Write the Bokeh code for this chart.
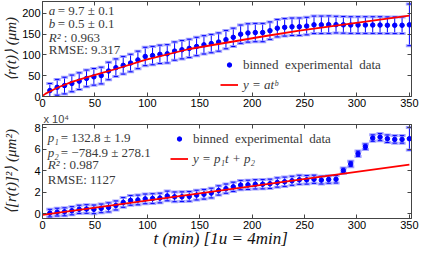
from bokeh.plotting import figure
from bokeh.layouts import column
from bokeh.models import (Range1d, LinearAxis, Legend, LegendItem, Label,
                          ColumnDataSource, FixedTicker)
from bokeh.embed import file_html
from bokeh.resources import INLINE

# ---------------- data ----------------
t = [7, 14, 21, 28, 35, 42, 49, 56, 63, 70, 77, 84, 91, 98, 105, 112, 119, 126,
     133, 140, 147, 154, 161, 168, 175, 182, 189, 196, 203, 210, 217, 224, 231,
     238, 245, 252, 259, 266, 273, 280, 287, 294, 301, 308, 315, 322, 329, 336,
     343, 350]

r_mean = [14.2, 22.1, 26.2, 31.4, 36.8, 43.5, 47.2, 50.3, 61.2, 69.2, 74.8, 80.3,
          87.8, 96.1, 98.2, 101.2, 102.5, 109.0, 112.3, 115.5, 120.0, 124.0,
          127.0, 130.7, 136.5, 142.0, 149.5, 152.5, 153.5, 153.5, 158.0, 164.0,
          166.0, 167.3, 167.5, 169.0, 172.0, 172.0, 172.5, 172.5, 172.0, 171.5,
          171.5, 171.5, 171.5, 171.5, 171.0, 171.0, 171.0, 172.0]
r_err = [17, 19, 20, 20, 20, 20, 20, 20, 21, 21, 21, 21, 21, 22, 22, 22, 22, 22,
         22, 22, 22, 22, 22, 22, 22, 22, 22, 22, 22, 22, 21, 21, 21, 21, 21, 21,
         21, 21, 21, 20, 20, 20, 20, 20, 20, 20, 20, 20, 20, 50]

# <[r(t)]^2>, in units of 10^4 um^2
r2_mean = [0.08, 0.17, 0.20, 0.30, 0.43, 0.46, 0.43, 0.52, 0.61, 0.79, 1.07, 1.26,
           1.30, 1.40, 1.43, 1.48, 1.67, 1.59, 1.60, 1.63, 1.75, 1.83, 1.94, 2.18,
           2.35, 2.52, 2.68, 2.70, 2.75, 2.76, 2.80, 2.92, 2.99, 3.08, 3.17, 3.17,
           3.22, 3.14, 3.20, 3.22, 4.02, 4.64, 5.59, 6.24, 7.04, 7.13, 6.98, 6.92,
           6.92, 6.98]
r2_err = [0.35, 0.36, 0.37, 0.38, 0.38, 0.40, 0.40, 0.40, 0.42, 0.42, 0.45, 0.45,
          0.45, 0.45, 0.45, 0.45, 0.45, 0.45, 0.45, 0.45, 0.45, 0.45, 0.45, 0.43,
          0.43, 0.43, 0.43, 0.43, 0.43, 0.43, 0.43, 0.43, 0.43, 0.42, 0.42, 0.40,
          0.38, 0.36, 0.35, 0.35, 0.24, 0.25, 0.25, 0.25, 0.30, 0.33, 0.35, 0.35,
          0.35, 1.05]

# fitted curves
fit1_t = [0.5, 3, 7, 14, 28, 42, 56, 70, 98, 140, 175, 210, 245, 280, 315, 350]
fit1_y = [2, 7, 12, 21, 35, 46, 56, 66, 88, 114, 129, 144, 158, 170, 182, 194]
fit2_t = [0, 350]
fit2_y = [-0.08, 4.57]

x_ticks = [0, 50, 100, 150, 200, 250, 300, 350]
y1_ticks = [0, 50, 100, 150, 200]
y2_ticks = [0, 2, 4, 6, 8]

# fit annotations: (italic symbol, upright remainder)
text1 = [("a", " = 9.7 \u00b1 0.1"), ("b", " = 0.5 \u00b1 0.1"),
         ("R\u00b2", " : 0.963"), ("", "RMSE: 9.317")]
text2 = [("p\u2081", " = 132.8 \u00b1 1.9"), ("p\u2082", " = \u2212784.9 \u00b1 278.1"),
         ("R\u00b2", " : 0.987"), ("", "RMSE: 1127")]

# ---------------- styling helpers ----------------
SERIF = "Liberation Serif"
SANS = "Liberation Sans"
BLUE = "#0000ff"
FRAME = "#444444"
TXT = "#3a3a3a"
SYM_W = {"a": 9, "b": 9, "R\u00b2": 15, "p\u2081": 13, "p\u2082": 13, "": 0}


def style(p, yticks):
    xa, ya = p.below[0], p.left[0]
    xa.ticker = FixedTicker(ticks=x_ticks)
    ya.ticker = FixedTicker(ticks=yticks)
    for ax in (xa, ya):
        ax.major_tick_in = 4
        ax.major_tick_out = 0
        ax.minor_tick_line_color = None
        ax.axis_line_color = FRAME
        ax.major_tick_line_color = FRAME
        ax.major_label_text_font = SANS
        ax.major_label_text_font_size = "11px"
        ax.major_label_text_color = "#000000"
        ax.major_label_standoff = 2
    p.grid.visible = False
    p.outline_line_color = FRAME
    for loc, tk in (("right", yticks), ("above", x_ticks)):
        ax = LinearAxis(ticker=FixedTicker(ticks=tk), major_tick_in=4,
                        major_tick_out=0, minor_tick_line_color=None,
                        major_label_text_font_size="1px",
                        major_label_text_color=None, major_label_standoff=0,
                        axis_line_color=FRAME, major_tick_line_color=FRAME)
        p.add_layout(ax, loc)
    return xa, ya


def errorbars(p, src):
    p.segment(x0="t", y0="lo", x1="t", y1="hi", source=src, line_color=BLUE,
              line_width=1)
    for key in ("lo", "hi"):
        p.segment(x0="cl", y0=key, x1="cr", y1=key, source=src,
                  line_color="#8c8cff", line_width=3, line_alpha=0.8)
        p.segment(x0="cl2", y0=key, x1="cr2", y1=key, source=src,
                  line_color=BLUE, line_width=1)


def make_src(m, e):
    return ColumnDataSource(dict(
        t=t, m=m,
        lo=[a - b for a, b in zip(m, e)], hi=[a + b for a, b in zip(m, e)],
        cl=[x - 3.4 for x in t], cr=[x + 3.4 for x in t],
        cl2=[x - 2.0 for x in t], cr2=[x + 2.0 for x in t]))


def annotate(p, x, ys, texts):
    for (sym, rest), y in zip(texts, ys):
        if sym:
            p.add_layout(Label(x=x, y=y, text=sym, text_font=SERIF,
                               text_font_style="italic", text_font_size="13px",
                               text_color=TXT, text_baseline="middle"))
        p.add_layout(Label(x=x, y=y, x_offset=SYM_W[sym], text=rest,
                           text_font=SERIF, text_font_size="13px",
                           text_color=TXT, text_baseline="middle"))


def legends(p, pts, line, math_label, loc):
    common = dict(label_text_font=SERIF, label_text_font_size="13px",
                  label_text_color=TXT, background_fill_alpha=0,
                  border_line_alpha=0, padding=0, spacing=0, margin=0,
                  glyph_width=18, glyph_height=11, label_height=19,
                  label_standoff=5)
    la = Legend(items=[LegendItem(label="binned  experimental  data",
                                  renderers=[pts])],
                location=(loc[0], loc[1] + 20), **common)
    lb = Legend(items=[LegendItem(label=math_label, renderers=[line])],
                location=loc, label_text_font_style="italic", **common)
    p.add_layout(la)
    p.add_layout(lb)


# ---------------- top panel ----------------
p1 = figure(width=420, height=110, output_backend="svg", toolbar_location=None,
            x_range=Range1d(0, 352), y_range=Range1d(0, 228),
            min_border_left=38, min_border_right=9, min_border_top=1,
            min_border_bottom=14)
xa1, ya1 = style(p1, y1_ticks)
ya1.axis_label = "\u27e8r(t)\u27e9 (\u03bcm)"
ya1.axis_label_text_font = SERIF
ya1.axis_label_text_font_style = "italic"
ya1.axis_label_text_font_size = "15px"
ya1.axis_label_text_color = "#222222"
ya1.axis_label_standoff = 0

src1 = make_src(r_mean, r_err)
errorbars(p1, src1)
pts1 = p1.scatter("t", "m", source=src1, size=4.5, color=BLUE)
fit1 = p1.line(fit1_t, fit1_y, line_color="#ff0000", line_width=1.8)

annotate(p1, 6, [206, 175, 142, 112], text1)
legends(p1, pts1, fit1, "y = at\u1d47", (178, 2))

# ---------------- bottom panel ----------------
p2 = figure(width=420, height=140, output_backend="svg", toolbar_location=None,
            x_range=Range1d(0, 352), y_range=Range1d(-0.42, 8.3),
            min_border_left=38, min_border_right=9, min_border_top=0,
            min_border_bottom=30, title="x 10\u2074")
p2.title.align = "left"
p2.title.text_font = SANS
p2.title.text_font_size = "11px"
p2.title.text_font_style = "normal"
p2.title.standoff = 0
p2.title.offset = 1
xa2, ya2 = style(p2, y2_ticks)
ya2.axis_label = "\u27e8[r(t)]\u00b2\u27e9 (\u03bcm\u00b2)"
ya2.axis_label_text_font = SERIF
ya2.axis_label_text_font_style = "italic"
ya2.axis_label_text_font_size = "15px"
ya2.axis_label_text_color = "#222222"
ya2.axis_label_standoff = 12
xa2.axis_label = "t  (min)   [1u = 4min]"
xa2.axis_label_text_font = SERIF
xa2.axis_label_text_font_style = "italic"
xa2.axis_label_text_font_size = "17px"
xa2.axis_label_text_color = "#111111"
xa2.axis_label_standoff = -3

src2 = make_src(r2_mean, r2_err)
errorbars(p2, src2)
pts2 = p2.scatter("t", "m", source=src2, size=4.5, color=BLUE)
fit2 = p2.line(fit2_t, fit2_y, line_color="#ff0000", line_width=1.8)

annotate(p2, 5, [7.13, 5.74, 4.56, 3.22], text2)
legends(p2, pts2, fit2, "y = p\u2081t + p\u2082", (128, 50))

layout = column(p1, p2, spacing=0)
open("out.html", "w").write(file_html(layout, INLINE))
